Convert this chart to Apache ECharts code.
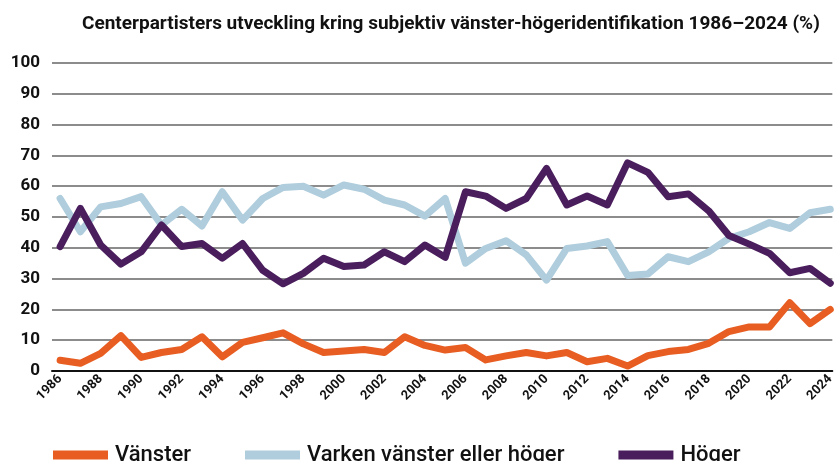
<!DOCTYPE html>
<html>
<head>
<meta charset="utf-8">
<script src="https://cdn.jsdelivr.net/npm/echarts@6/dist/echarts.min.js"></script>
<style>
  html, body { margin: 0; padding: 0; background: #fff; }
  #chart { width: 837px; height: 461px; }
</style>
</head>
<body>
<div id="chart"></div>
<script>
// years 1986-2024
const years = [1986, 1987, 1988, 1989, 1990, 1991, 1992, 1993, 1994, 1995, 1996, 1997, 1998, 1999,
  2000, 2001, 2002, 2003, 2004, 2005, 2006, 2007, 2008, 2009, 2010, 2011, 2012, 2013, 2014,
  2015, 2016, 2017, 2018, 2019, 2020, 2021, 2022, 2023, 2024];
const yearLabels = [1986, 1988, 1990, 1992, 1994, 1996, 1998, 2000, 2002, 2004, 2006, 2008,
  2010, 2012, 2014, 2016, 2018, 2020, 2022, 2024];

const vanster = [3.5, 2.5, 5.7, 11.5, 4.4, 6, 7, 11.1, 4.6, 9.3, 10.8, 12.4, 8.8, 6,
  6.5, 7, 6, 11.1, 8.3, 6.8, 7.6, 3.6, 4.9, 6, 4.9, 6, 3, 4.1, 1.6,
  5, 6.3, 7, 9, 12.8, 14.3, 14.3, 22.2, 15.4, 20];
const varken = [56, 45.2, 53.3, 54.4, 56.6, 47.4, 52.5, 47.1, 58.2, 49, 56, 59.6, 60, 57.1,
  60.4, 59, 55.5, 53.9, 50.3, 56, 35, 39.8, 42.3, 37.7, 29.5, 39.8, 40.6, 42, 31,
  31.5, 37.1, 35.5, 38.7, 43.1, 45.2, 48.2, 46.3, 51.4, 52.5];
const hoger = [40.4, 52.8, 40.9, 34.7, 38.7, 47.4, 40.4, 41.4, 36.6, 41.4, 32.7, 28.3, 31.7, 36.6,
  33.9, 34.4, 38.7, 35.5, 40.9, 36.9, 58.2, 56.8, 52.8, 56, 65.8, 53.9, 56.8, 53.9, 67.6,
  64.5, 56.6, 57.5, 52, 44, 41.2, 38.2, 31.9, 33.3, 28.5];

const names = ['Vänster', 'Varken vänster eller höger', 'Höger'];
const colors = ['#E85E22', '#AFCDDC', '#4A1E5D'];

const chart = echarts.init(document.getElementById('chart'), null, { renderer: 'canvas' });

function makeSeries(name, values, color, z) {
  return {
    name: name,
    type: 'line',
    data: years.map((y, i) => [y, values[i]]),
    showSymbol: false,
    symbol: 'none',
    z: z,
    lineStyle: { color: color, width: 7, join: 'round', cap: 'round' },
    itemStyle: { color: color },
    emphasis: { disabled: true }
  };
}

chart.setOption({
  animation: false,
  textStyle: { fontFamily: 'Roboto' },
  title: {
    text: 'Centerpartisters utveckling kring subjektiv vänster-högeridentifikation 1986–2024 (%)',
    left: 77,
    top: 10,
    textStyle: { fontFamily: 'Roboto', fontWeight: 'bold', fontSize: 19, color: '#111' }
  },
  legend: {
    bottom: -10,
    left: 48,
    itemWidth: 55,
    itemHeight: 9,
    itemGap: 54,
    icon: 'rect',
    data: names,
    textStyle: { fontFamily: 'Roboto', fontSize: 22, fontWeight: 500, color: '#111', padding: [0, 0, 0, 2] }
  },
  grid: { left: 52, right: 0, top: 63, bottom: 90 },
  xAxis: {
    type: 'value',
    min: 1985.6,
    max: 2024.1,
    splitLine: { show: false },
    axisLine: { show: true, lineStyle: { color: '#111', width: 2 } },
    axisTick: { show: false },
    axisLabel: {
      customValues: yearLabels,
      rotate: 45,
      fontSize: 13,
      fontWeight: 'bold',
      color: '#111',
      margin: 6,
      formatter: v => String(v)
    }
  },
  yAxis: {
    type: 'value',
    min: 0,
    max: 100,
    interval: 10,
    axisLine: { show: false },
    axisTick: { show: false },
    splitLine: { lineStyle: { color: '#666', width: 1.5 } },
    axisLabel: { fontSize: 17, fontWeight: 'bold', color: '#111', margin: 12 }
  },
  series: [
    makeSeries(names[0], vanster, colors[0], 3),
    makeSeries(names[1], varken, colors[1], 2),
    makeSeries(names[2], hoger, colors[2], 4)
  ]
});
</script>
</body>
</html>
